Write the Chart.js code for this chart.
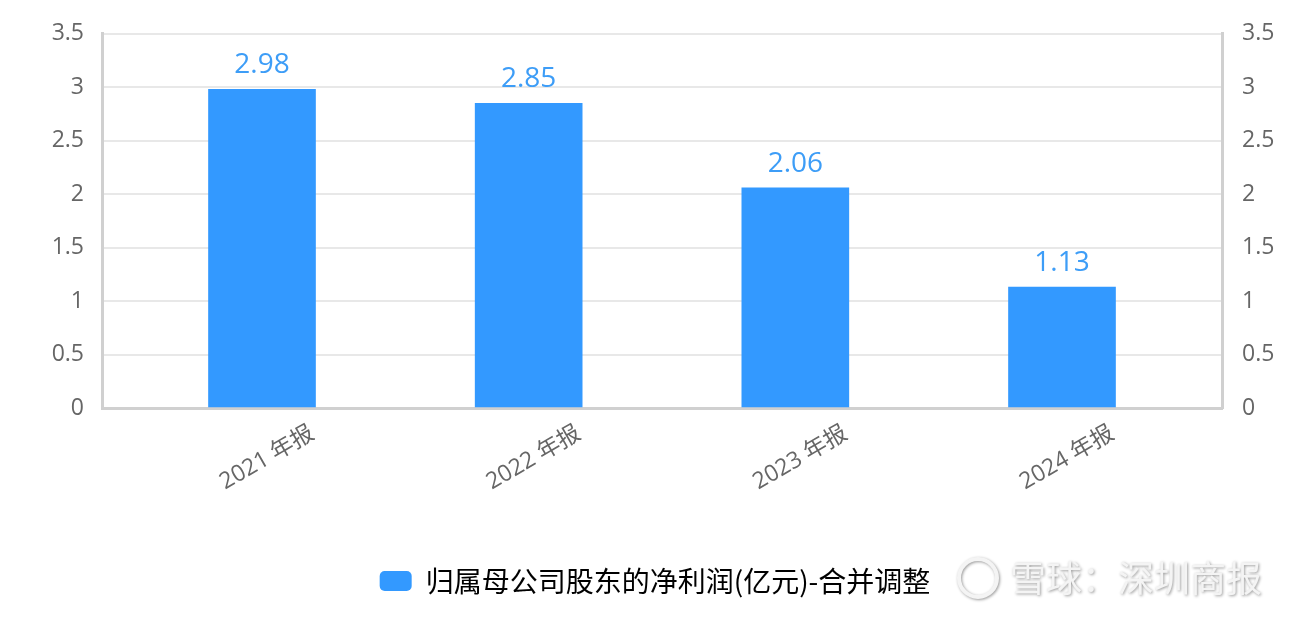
<!DOCTYPE html>
<html>
<head>
<meta charset="utf-8">
<script src="https://cdn.jsdelivr.net/npm/chart.js@4/dist/chart.umd.min.js"></script>
<style>
  html, body { margin: 0; padding: 0; background: #fff; }
  #wrap { width: 1310px; height: 618px; }
</style>
</head>
<body>
<div id="wrap"><canvas id="grafico"></canvas></div>
<script>
// Dados do gráfico
const categorias = ['2021 年报', '2022 年报', '2023 年报', '2024 年报'];
const lucroLiquido = [2.98, 2.85, 2.06, 1.13];
const serieNome = '归属母公司股东的净利润(亿元)-合并调整';
const marcaDagua = '雪球：深圳商报';

const FONTE = '"Open Sans", "Noto Sans CJK SC", sans-serif';
const AZUL = '#3399ff';

// Rótulos de valor acima das barras
const rotulosValor = {
    id: 'rotulosValor',
    afterDatasetsDraw(chart) {
        const ctx = chart.ctx;
        const meta = chart.getDatasetMeta(0);
        ctx.save();
        ctx.font = '28px ' + FONTE;
        ctx.fillStyle = '#3d9df7';
        ctx.textAlign = 'center';
        ctx.textBaseline = 'alphabetic';
        meta.data.forEach((bar, i) => {
            ctx.fillText(lucroLiquido[i].toFixed(2), bar.x, bar.y - 16);
        });
        ctx.restore();
    }
};

// Rótulos do eixo X inclinados + marca d'água
const rotulosX = {
    id: 'rotulosX',
    afterDraw(chart) {
        const ctx = chart.ctx;
        const x = chart.scales.x;
        ctx.save();
        ctx.font = '23px ' + FONTE;
        ctx.fillStyle = '#666';
        ctx.textAlign = 'center';
        ctx.textBaseline = 'middle';
        categorias.forEach((c, i) => {
            const px = x.getPixelForValue(i) + 5;
            ctx.save();
            ctx.translate(px, x.top + 50);
            ctx.rotate(-Math.PI / 6);
            ctx.fillText(c, 0, 0);
            ctx.restore();
        });
        ctx.restore();

        // marca d'água
        ctx.save();
        ctx.font = '36px "Noto Sans CJK SC", sans-serif';
        ctx.fillStyle = '#f4f4f4';
        ctx.shadowColor = 'rgba(0,0,0,0.4)';
        ctx.shadowBlur = 3;
        ctx.shadowOffsetX = 1;
        ctx.shadowOffsetY = 1;
        ctx.textAlign = 'left';
        ctx.textBaseline = 'middle';
        ctx.fillText(marcaDagua, 1010, 578);
        ctx.lineWidth = 4;
        ctx.strokeStyle = '#f4f4f4';
        ctx.beginPath();
        ctx.arc(978, 578, 19, 0, Math.PI * 2);
        ctx.stroke();
        ctx.restore();
    }
};

window.addEventListener('DOMContentLoaded', () => {
    const ctx = document.getElementById('grafico').getContext('2d');
    new Chart(ctx, {
        type: 'bar',
        data: {
            datasets: [{
                label: serieNome,
                data: lucroLiquido.map((v, i) => ({ x: i, y: v })),
                backgroundColor: AZUL,
                borderWidth: 0,
                barThickness: 107,
                yAxisID: 'y'
            }]
        },
        options: {
            responsive: true,
            maintainAspectRatio: false,
            animation: false,
            layout: { padding: { top: 32, bottom: 13, left: 0, right: 0 } },
            plugins: {
                tooltip: { enabled: false },
                legend: {
                    position: 'bottom',
                    labels: {
                        font: { size: 28, family: '"Noto Sans CJK SC", sans-serif' },
                        color: '#4a4f5c',
                        boxWidth: 32,
                        boxHeight: 20,
                        padding: 10,
                        generateLabels(chart) {
                            return [{
                                text: serieNome,
                                fillStyle: AZUL,
                                strokeStyle: AZUL,
                                lineWidth: 0,
                                borderRadius: 5,
                                datasetIndex: 0
                            }];
                        }
                    }
                }
            },
            scales: {
                x: {
                    type: 'linear',
                    min: -0.6,
                    max: 3.6,
                    offset: false,
                    grid: { display: false },
                    ticks: { display: false },
                    border: { display: true, color: '#d0d0d0', width: 3 },
                    afterFit(scale) { scale.height = 149; }
                },
                y: {
                    position: 'left',
                    min: 0,
                    max: 3.5,
                    ticks: {
                        stepSize: 0.5,
                        font: { size: 23, family: FONTE },
                        color: '#666',
                        padding: 18,
                        callback: v => String(v)
                    },
                    grid: { color: '#e8e8e8', lineWidth: 2, drawTicks: false },
                    border: { color: '#d0d0d0', width: 3 },
                    afterFit(scale) { scale.width = 102; }
                },
                y2: {
                    position: 'right',
                    min: 0,
                    max: 3.5,
                    ticks: {
                        stepSize: 0.5,
                        font: { size: 23, family: FONTE },
                        color: '#666',
                        padding: 20,
                        callback: v => String(v)
                    },
                    grid: { display: false, drawTicks: false },
                    border: { color: '#d0d0d0', width: 3 },
                    afterFit(scale) { scale.width = 88; }
                }
            }
        },
        plugins: [rotulosValor, rotulosX]
    });
});
</script>
</body>
</html>
